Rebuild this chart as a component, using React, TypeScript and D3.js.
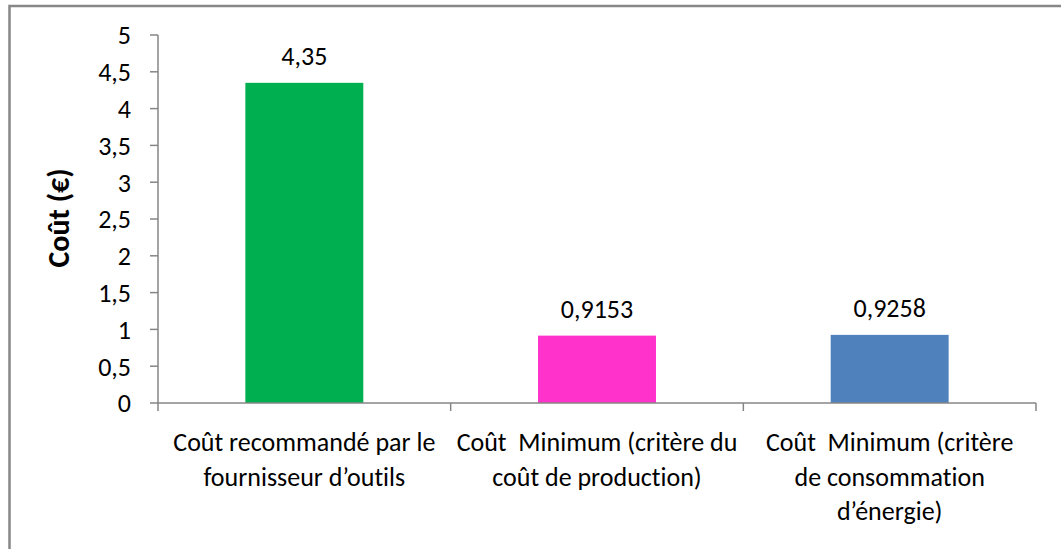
import React from "react";
import * as d3 from "d3";

const categories = [
  "Coût recommandé par le fournisseur d’outils",
  "Coût Minimum (critère du coût de production)",
  "Coût Minimum (critère de consommation d’énergie)",
];
// how Excel wrapped the category labels
const categoryLines = [
  ["Coût recommandé par le", "fournisseur d’outils"],
  ["Coût  Minimum (critère du", "coût de production)"],
  ["Coût  Minimum (critère", "de consommation", "d’énergie)"],
];
const values = [4.35, 0.9153, 0.9258];
const valueLabels = ["4,35", "0,9153", "0,9258"];
const barColors = ["#00B050", "#FF33CC", "#4F81BD"];
const yTicks = [0, 0.5, 1, 1.5, 2, 2.5, 3, 3.5, 4, 4.5, 5];
const yTitle = "Coût (€)";

const W = 1061;
const H = 549;
const FONT = "Carlito, Calibri, Lato, sans-serif";
const FS = 26;

export default function App() {
  const left = 158;
  const right = 1036;
  const top = 35;
  const bottom = 403;

  const x = d3.scaleBand().domain(categories).range([left, right]).paddingInner(0).paddingOuter(0);
  const y = d3.scaleLinear().domain([0, 5]).range([bottom, top]);
  const barW = x.bandwidth() * 0.403;
  const fmt = (v: number) => String(v).replace(".", ",");

  return (
    <div style={{ position: "fixed", left: 0, top: 0 }}>
      <svg
        width={W}
        height={H}
        style={{ display: "block", background: "#fff", fontVariantLigatures: "none" }}
      >
        {/* chart area border, only top and left are in view */}
        <rect x={9.5} y={6} width={W + 20} height={H + 20} fill="#fff" stroke="#878787" strokeWidth={2.5} />

        {/* bars */}
        {categories.map((c, i) => {
          const cx = x(c)! + x.bandwidth() / 2;
          return (
            <g key={c}>
              <rect x={cx - barW / 2} y={y(values[i])} width={barW} height={y(0) - y(values[i])} fill={barColors[i]} />
              <text x={cx} y={y(values[i]) - 18} textAnchor="middle" fontFamily={FONT} fontSize={FS} fill="#000">
                {valueLabels[i]}
              </text>
            </g>
          );
        })}

        {/* y axis */}
        <line x1={left} x2={left} y1={top} y2={bottom} stroke="#868686" strokeWidth={1.5} />
        {yTicks.map(t => (
          <g key={t}>
            <line x1={left - 8} x2={left} y1={y(t)} y2={y(t)} stroke="#868686" strokeWidth={1.5} />
            <text x={left - 27} y={y(t)} dy="0.36em" textAnchor="end" fontFamily={FONT} fontSize={FS} fill="#000">
              {fmt(t)}
            </text>
          </g>
        ))}
        <text
          transform={`translate(${58},${218}) rotate(-90)`}
          textAnchor="middle"
          dy="0.36em"
          fontFamily={FONT}
          fontSize={30}
          fontWeight="bold"
          fill="#000"
        >
          {yTitle}
        </text>

        {/* x axis */}
        <line x1={left} x2={right} y1={bottom} y2={bottom} stroke="#868686" strokeWidth={1.5} />
        {[...categories.map(c => x(c)!), right].map((px, i) => (
          <line key={i} x1={px} x2={px} y1={bottom} y2={bottom + 8} stroke="#868686" strokeWidth={1.5} />
        ))}
        {categories.map((c, i) => {
          const cx = x(c)! + x.bandwidth() / 2;
          return (
            <text key={c} textAnchor="middle" fontFamily={FONT} fontSize={FS} fill="#000">
              {categoryLines[i].map((line, j) => (
                <tspan key={j} x={cx} y={451 + j * 34.5} style={{ whiteSpace: "pre" }}>
                  {line}
                </tspan>
              ))}
            </text>
          );
        })}
      </svg>
    </div>
  );
}
